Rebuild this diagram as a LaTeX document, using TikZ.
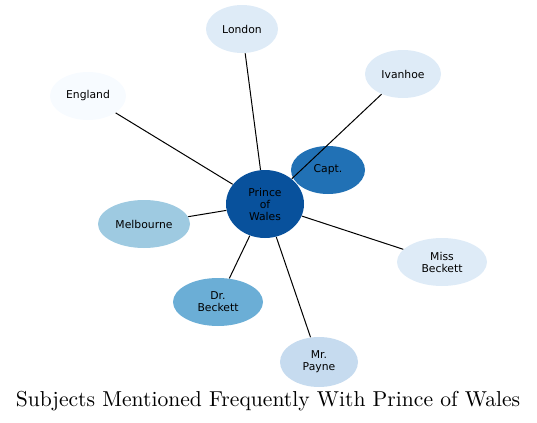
\documentclass[tikz,border=0pt]{standalone}
\usepackage{fontspec}
\newfontfamily\dv{DejaVu Sans}
\usetikzlibrary{shapes.geometric}
\definecolor{b1}{HTML}{F7FBFF}
\definecolor{b2}{HTML}{DEEBF7}
\definecolor{b3}{HTML}{C6DBEF}
\definecolor{b4}{HTML}{9ECAE1}
\definecolor{b5}{HTML}{6BAED6}
\definecolor{b6}{HTML}{2171B5}
\definecolor{b7}{HTML}{08519C}
\tikzset{
  topic/.style={ellipse, draw=none, inner sep=0pt, align=center,
    font=\dv\fontsize{5.4}{6}\selectfont, text=black},
  link/.style={draw=black, line width=0.5pt},
}
\begin{document}
\begin{tikzpicture}[x=0.5pt,y=-0.5pt]
\useasboundingbox (0,0) rectangle (537,423);
\node[topic, fill=b7, minimum width=39pt, minimum height=34pt] (pw) at (265,204) {Prince\\of\\Wales};
\node[topic, fill=b6, minimum width=37pt, minimum height=24pt] (capt) at (328,170) {Capt.};
\node[topic, fill=b2, minimum width=36pt, minimum height=24pt] (london) at (242,29) {London};
\node[topic, fill=b2, minimum width=38pt, minimum height=24pt] (ivanhoe) at (403,74) {Ivanhoe};
\node[topic, fill=b1, minimum width=38pt, minimum height=24pt] (england) at (88,96) {England};
\node[topic, fill=b4, minimum width=46pt, minimum height=24pt] (melb) at (144,224) {Melbourne};
\node[topic, fill=b5, minimum width=45pt, minimum height=24pt] (drb) at (218,302) {Dr.\\Beckett};
\node[topic, fill=b3, minimum width=39pt, minimum height=25pt] (payne) at (319,362) {Mr.\\Payne};
\node[topic, fill=b2, minimum width=45pt, minimum height=24pt] (missb) at (442,262) {Miss\\Beckett};
\draw[link] (pw) -- (london);
\draw[link] (pw) -- (ivanhoe);
\draw[link] (pw) -- (england);
\draw[link] (pw) -- (melb);
\draw[link] (pw) -- (drb);
\draw[link] (pw) -- (payne);
\draw[link] (pw) -- (missb);
\node[font=\fontsize{10.8}{13}\selectfont, inner sep=0pt] (title) at (268,401) {Subjects Mentioned Frequently With Prince of Wales};
\end{tikzpicture}
\end{document}
